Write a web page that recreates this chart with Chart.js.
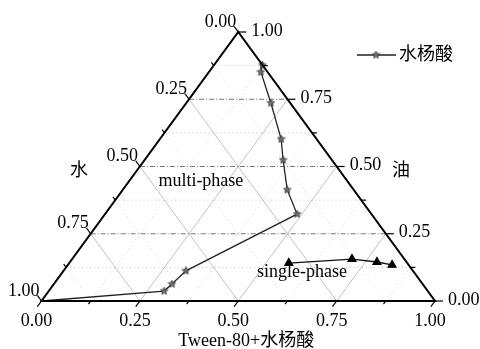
<!DOCTYPE html>
<html>
<head>
<meta charset="utf-8">
<script src="https://cdn.jsdelivr.net/npm/chart.js@4.4.0/dist/chart.umd.min.js"></script>
<style>
	body { margin: 0; background: #fff; }
</style>
</head>
<body>
<canvas id="myChart" width="480" height="349"></canvas>
<script>
// frazioni: Tween-80+水杨酸 (asse in basso) e 油 (asse destro); 水 = 1 - le altre due
const starTween = [0, 0.293, 0.300, 0.311, 0.488, 0.418, 0.352, 0.308, 0.215, 0.132, 0.123];
const starOil = [0, 0.037, 0.063, 0.112, 0.323, 0.413, 0.524, 0.602, 0.736, 0.851, 0.877];
const triTween = [0.558, 0.711, 0.780, 0.824];
const triOil = [0.141, 0.156, 0.145, 0.134];

const tickValues = [0, 0.25, 0.5, 0.75, 1];
const tickLabels = ['0.00', '0.25', '0.50', '0.75', '1.00'];
const minorValues = [0.125, 0.375, 0.625, 0.875];

const seriesName = '水杨酸';
const bottomTitle = 'Tween-80+水杨酸';
const leftTitle = '水';
const rightTitle = '油';
const regionLabels = ['multi-phase', 'single-phase'];

const serif = '"Liberation Serif", "Noto Sans CJK SC", serif';

// ternario -> coordinate del grafico
function toXY(t, o) {
	return { x: t + o / 2, y: o };
}

let starPoints = starTween.map((t, i) => toXY(t, starOil[i]));
let triPoints = triTween.map((t, i) => toXY(t, triOil[i]));

// stellina a 5 punte per i marker
function makeStar(size) {
	const c = document.createElement('canvas');
	c.width = size;
	c.height = size;
	const g = c.getContext('2d');
	const cx = size / 2, cy = size / 2, R = size / 2 - 0.5, r = R * 0.45;
	g.beginPath();
	for (let i = 0; i < 10; i++) {
		let a = -Math.PI / 2 + i * Math.PI / 5;
		let rr = i % 2 === 0 ? R : r;
		g.lineTo(cx + rr * Math.cos(a), cy + rr * Math.sin(a));
	}
	g.closePath();
	g.fillStyle = '#707070';
	g.fill();
	g.strokeStyle = '#333';
	g.lineWidth = 0.8;
	g.stroke();
	return c;
}
const starImg = makeStar(9);

const ternaryPlugin = {
	id: 'ternary',
	beforeDatasetsDraw(chart) {
		const ctx = chart.ctx;
		const px = (t, o) => ({
			x: chart.scales.x.getPixelForValue(t + o / 2),
			y: chart.scales.y.getPixelForValue(o)
		});
		const seg = (a, b) => {
			ctx.beginPath();
			ctx.moveTo(a.x, a.y);
			ctx.lineTo(b.x, b.y);
			ctx.stroke();
		};
		ctx.save();
		const all = minorValues.concat([0.25, 0.5, 0.75]);
		all.forEach((v) => {
			let major = minorValues.indexOf(v) < 0;
			// linee a olio costante (orizzontali)
			if (major) {
				ctx.strokeStyle = '#666';
				ctx.lineWidth = 0.9;
				ctx.setLineDash([5, 2, 1, 2]);
			} else {
				ctx.strokeStyle = '#b0b0b0';
				ctx.lineWidth = 0.8;
				ctx.setLineDash([1, 3]);
			}
			seg(px(0, v), px(1 - v, v));
			// linee diagonali
			if (major) {
				ctx.strokeStyle = '#a8a8a8';
				ctx.lineWidth = 0.7;
				ctx.setLineDash([]);
			} else {
				ctx.strokeStyle = '#c4c4c4';
				ctx.lineWidth = 0.7;
				ctx.setLineDash([1, 3]);
			}
			seg(px(v, 0), px(v, 1 - v));
			seg(px(1 - v, 0), px(0, 1 - v));
		});
		ctx.restore();
	},
	afterDatasetsDraw(chart) {
		const ctx = chart.ctx;
		const px = (t, o) => ({
			x: chart.scales.x.getPixelForValue(t + o / 2),
			y: chart.scales.y.getPixelForValue(o)
		});
		const A = px(0, 0), B = px(1, 0), C = px(0, 1);
		ctx.save();
		ctx.setLineDash([]);
		// cornice del triangolo
		ctx.strokeStyle = '#000';
		ctx.lineWidth = 2;
		ctx.lineJoin = 'miter';
		ctx.beginPath();
		ctx.moveTo(A.x, A.y);
		ctx.lineTo(B.x, B.y);
		ctx.lineTo(C.x, C.y);
		ctx.closePath();
		ctx.stroke();

		// direzioni delle tacche
		const norm = (dx, dy) => { let l = Math.hypot(dx, dy); return { x: dx / l, y: dy / l }; };
		const dBottom = norm(A.x - C.x, A.y - C.y);
		const dLeft = norm(C.x - B.x, C.y - B.y);
		const dRight = { x: 1, y: 0 };
		const tick = (p, d, len) => {
			ctx.beginPath();
			ctx.moveTo(p.x, p.y);
			ctx.lineTo(p.x + d.x * len, p.y + d.y * len);
			ctx.stroke();
		};
		ctx.lineWidth = 1.2;
		tickValues.forEach((v) => {
			tick(px(v, 0), dBottom, 7);
			tick(px(1 - v, v), dRight, 8);
			tick(px(0, 1 - v), dLeft, 7);
		});
		minorValues.forEach((v) => {
			tick(px(v, 0), dBottom, 4);
			tick(px(1 - v, v), dRight, 5);
			tick(px(0, 1 - v), dLeft, 4);
		});

		// etichette
		ctx.fillStyle = '#000';
		ctx.font = '18px ' + serif;
		ctx.textBaseline = 'middle';
		tickValues.forEach((v, i) => {
			let p = px(v, 0);
			ctx.textAlign = 'center';
			ctx.fillText(tickLabels[i], p.x - 5, p.y + 20);
			p = px(1 - v, v);
			ctx.textAlign = 'left';
			ctx.fillText(tickLabels[i], p.x + 13, p.y - 1);
			p = px(0, 1 - v);
			ctx.textAlign = 'right';
			ctx.fillText(tickLabels[i], p.x - 2, p.y - 10);
		});

		ctx.textAlign = 'center';
		ctx.fillText(bottomTitle, (A.x + B.x) / 2 + 8, A.y + 40);
		ctx.fillText(leftTitle, 79, 171);
		ctx.fillText(rightTitle, 401, 171);

		let m = px(0.182, 0.446);
		ctx.fillText(regionLabels[0], m.x, m.y);
		let s = px(0.608, 0.108);
		ctx.fillText(regionLabels[1], s.x, s.y);

		// legenda
		ctx.strokeStyle = '#222';
		ctx.lineWidth = 1.3;
		ctx.beginPath();
		ctx.moveTo(357, 55);
		ctx.lineTo(396, 55);
		ctx.stroke();
		ctx.drawImage(starImg, 376 - 4.5, 55 - 4.5);
		ctx.textAlign = 'left';
		ctx.fillText(seriesName, 399, 55);
		ctx.restore();
	}
};

new Chart(document.getElementById('myChart'), {
	type: 'scatter',
	data: {
		datasets: [{
			label: seriesName,
			data: starPoints,
			showLine: true,
			borderColor: '#222',
			borderWidth: 1.3,
			pointStyle: starImg,
			pointRadius: (c) => (c.dataIndex === 0 ? 0 : 4),
			clip: false
		}, {
			label: 'single-phase',
			data: triPoints,
			showLine: true,
			borderColor: '#111',
			borderWidth: 1.3,
			pointStyle: 'triangle',
			pointRadius: 4.5,
			backgroundColor: '#000',
			pointBorderColor: '#000',
			clip: false
		}]
	},
	options: {
		responsive: false,
		animation: false,
		layout: {
			padding: { left: 41.5, right: 45, top: 32, bottom: 48 }
		},
		scales: {
			x: { type: 'linear', min: 0, max: 1, display: false },
			y: { type: 'linear', min: 0, max: 1, display: false }
		},
		plugins: {
			legend: { display: false },
			tooltip: { enabled: false }
		}
	},
	plugins: [ternaryPlugin]
});
</script>
</body>
</html>
